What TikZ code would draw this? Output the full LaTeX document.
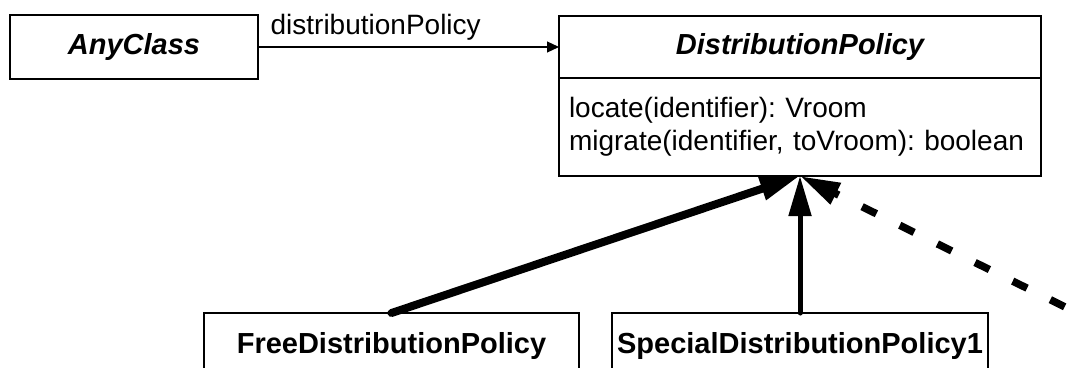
\documentclass[tikz,border=0pt]{standalone}
\usepackage{fontspec}
\setmainfont{Liberation Sans}
\usetikzlibrary{arrows.meta}
\frenchspacing
\begin{document}
\begin{tikzpicture}[x=1pt,y=-1pt,
  box/.style={draw=black, line width=1.2pt, inner sep=0pt, outer sep=0pt},
  regtext/.style={font=\fontsize{28}{33}\selectfont},
  boldtext/.style={font=\bfseries\fontsize{29}{34}\selectfont},
  itbold/.style={font=\bfseries\itshape\fontsize{29}{34}\selectfont},
  assoc/.style={line width=1.2pt, -{Triangle[length=12pt,width=11pt]}},
  inherit/.style={line cap=round, -{Triangle[length=40pt,width=22pt]}},
  realize/.style={line width=7.5pt, dash pattern=on 16pt off 26pt, -{Triangle[length=40pt,width=22pt]}}
]
\useasboundingbox (0,0) rectangle (1074,367);
\clip (0,0) rectangle (1074,367);
\fill[white] (0,0) rectangle (1074,367);

\node[box, itbold, minimum width=248pt, minimum height=64pt] (any) at (134,47) {AnyClass};
\node[box, itbold, minimum width=482pt, minimum height=62pt] (dpt) at (800,47) {DistributionPolicy};
\node[box, regtext, minimum width=482pt, minimum height=98pt, text width=462pt, align=left, inner xsep=10pt] (dpm) at (800,127)
  {locate(identifier): Vroom\\migrate(identifier, toVroom): boolean};

\node[box, boldtext, anchor=north, minimum width=375pt, inner ysep=18pt, text height=22pt, text depth=50pt] (free) at (391.5,313) {FreeDistributionPolicy};
\node[box, boldtext, anchor=north, minimum width=376pt, inner ysep=18pt, text height=22pt, text depth=50pt] (spec) at (800,313) {SpecialDistributionPolicy1};

\coordinate (other) at (1140,344);

\draw[assoc] (any.east |- 0,47) -- (dpt.west) node[pos=0.04, anchor=south west, regtext, inner sep=0pt, yshift=6pt] {distributionPolicy};
\draw[inherit, line width=8pt] (free.north) -- (dpm.south);
\draw[inherit, line width=5pt] (spec.north) -- (dpm.south);
\draw[realize] (other) -- (dpm.south);
\end{tikzpicture}
\end{document}
